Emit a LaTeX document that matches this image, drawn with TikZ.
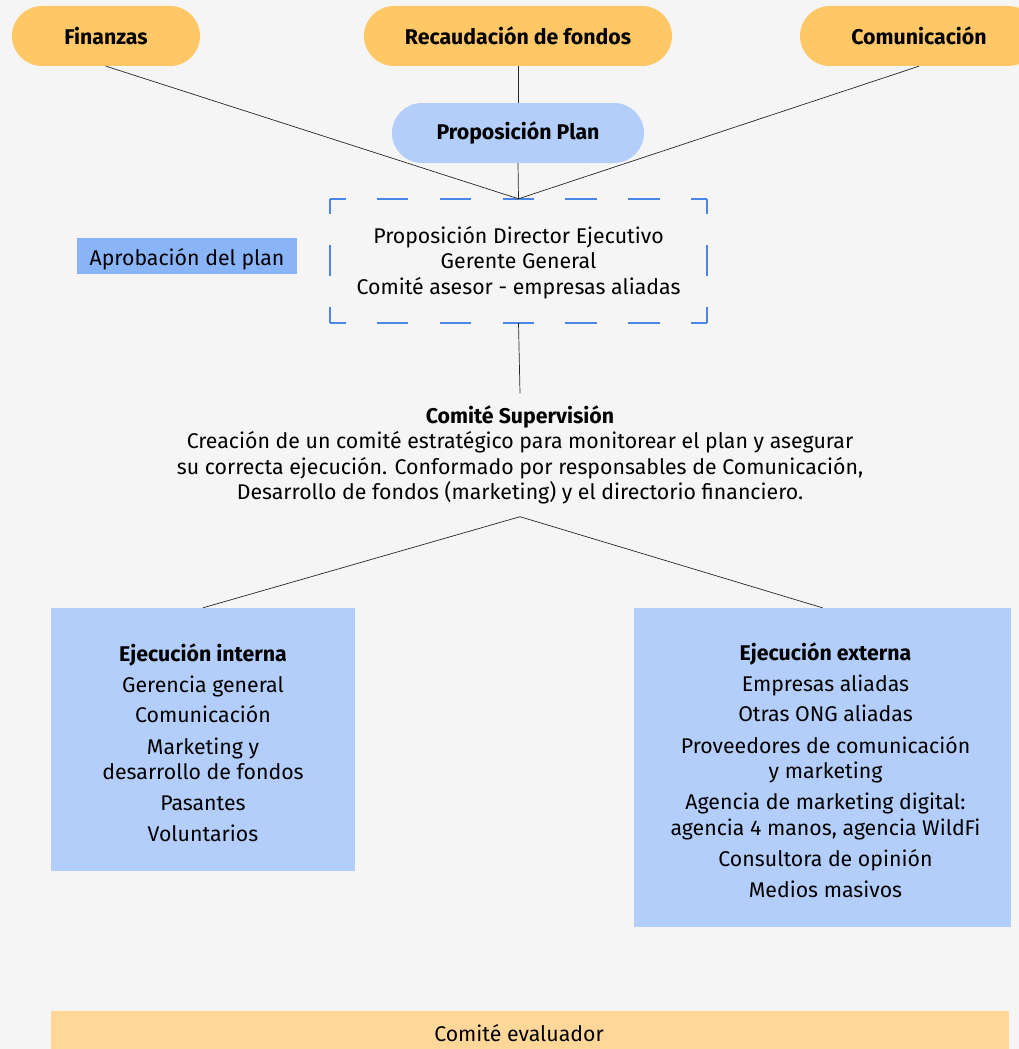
\documentclass[tikz,border=0pt]{standalone}
\usepackage{fontspec}
\setmainfont{Fira Sans}
\definecolor{bgc}{HTML}{F5F5F5}
\definecolor{pillor}{HTML}{FFC766}
\definecolor{lblue}{HTML}{B3CEFA}
\definecolor{mblue}{HTML}{8AB4F8}
\definecolor{dblue}{HTML}{4A86E8}
\definecolor{evalc}{HTML}{FFD899}
\begin{document}
\begin{tikzpicture}[x=1pt,y=-1pt,
  pill/.style={rectangle, rounded corners=30pt, minimum height=60pt, inner sep=0pt, font=\fontsize{21.3}{24}\selectfont\bfseries},
  txt/.style={font=\fontsize{21.3}{25.5}\selectfont, align=center, inner sep=0pt},
  conn/.style={draw=black!85, line width=0.7pt},
  dashside/.style={draw=dblue, line width=2pt},
  execbox/.style={rectangle, fill=lblue, inner sep=0pt, font=\fontsize{21.3}{25.5}\selectfont, align=center}
]
\useasboundingbox (0,0) rectangle (1019,1049);
\fill[bgc] (0,0) rectangle (1019,1049);
\clip (0,0) rectangle (1019,1049);

% top pills
\node[pill, fill=pillor, minimum width=188pt] (fin) at (106,36) {Finanzas};
\node[pill, fill=pillor, minimum width=308pt] (rec) at (518,36) {Recaudación de fondos};
\node[pill, fill=pillor, minimum width=238pt] (com) at (919,36) {Comunicación};
\node[pill, fill=lblue, minimum width=252pt] (prop) at (518,133) {Proposición Plan};

% dashed approval box
\node[txt, minimum width=377pt, minimum height=124pt] (box) at (518.5,261)
  {\raisebox{-2.5pt}[\height][\depth]{\begin{tabular}{@{}c@{}}Proposición Director Ejecutivo\\Gerente General\\Comité asesor - empresas aliadas\end{tabular}}};
\draw[dashside, dash pattern=on 31.4pt off 31.4pt, dash phase=15.7pt] (box.north west) -- (box.north east);
\draw[dashside, dash pattern=on 31.4pt off 31.4pt, dash phase=15.7pt] (box.south west) -- (box.south east);
\draw[dashside, dash pattern=on 31pt off 31pt, dash phase=15.5pt] (box.north west) -- (box.south west);
\draw[dashside, dash pattern=on 31pt off 31pt, dash phase=15.5pt] (box.north east) -- (box.south east);

\node[rectangle, fill=mblue, minimum width=220pt, minimum height=36pt, inner sep=0pt, font=\fontsize{21.3}{24}\selectfont] (apr) at (187,256) {\raisebox{-3pt}[\height][\depth]{Aprobación del plan}};

% connectors top
\draw[conn] (fin.south) -- (box.north);
\draw[conn] (com.south) -- (box.north);
\draw[conn] (rec.south) -- (prop.north);
\draw[conn] (prop.south) -- (box.north);

% supervision
\node[txt, minimum height=123pt] (sup) at (520,455)
  {\textbf{Comité Supervisión}\\
   Creación de un comité estratégico para monitorear el plan y asegurar\\
   su correcta ejecución. Conformado por responsables de Comunicación,\\
   Desarrollo de fondos (marketing) y el directorio financiero.};
\draw[conn] (box.south) -- (sup.north);

% execution boxes
\node[execbox, minimum width=304pt, minimum height=263pt] (int) at (203,739.5)
  {\raisebox{-7pt}[\height][\depth]{\begin{tabular}{@{}c@{}}\textbf{Ejecución interna}\\[5.5pt]
   Gerencia general\\[5pt]
   Comunicación\\[6pt]
   Marketing y\\desarrollo de fondos\\[5.5pt]
   Pasantes\\[5.5pt]
   Voluntarios\end{tabular}}};
\node[execbox, minimum width=377pt, minimum height=319pt] (ext) at (822.5,767.5)
  {\hspace*{3pt}\raisebox{-6pt}[\height][\depth]{\begin{tabular}{@{}c@{}}\textbf{Ejecución externa}\\[5.5pt]
   Empresas aliadas\\[5pt]
   Otras ONG aliadas\\[6pt]
   Proveedores de comunicación\\y marketing\\[5.5pt]
   Agencia de marketing digital:\\agencia 4 manos, agencia WildFi\\[5.5pt]
   Consultora de opinión\\[5.5pt]
   Medios masivos\end{tabular}}\hspace*{-3pt}};
\draw[conn] (sup.south) -- (int.north);
\draw[conn] (sup.south) -- (ext.north);

% evaluator
\node[rectangle, fill=evalc, minimum width=958pt, minimum height=48pt, inner sep=0pt, font=\fontsize{21.3}{24}\selectfont] (eval) at (530,1035) {};
\node[txt] (evaltxt) at (519,1033) {Comité evaluador};
\end{tikzpicture}
\end{document}
